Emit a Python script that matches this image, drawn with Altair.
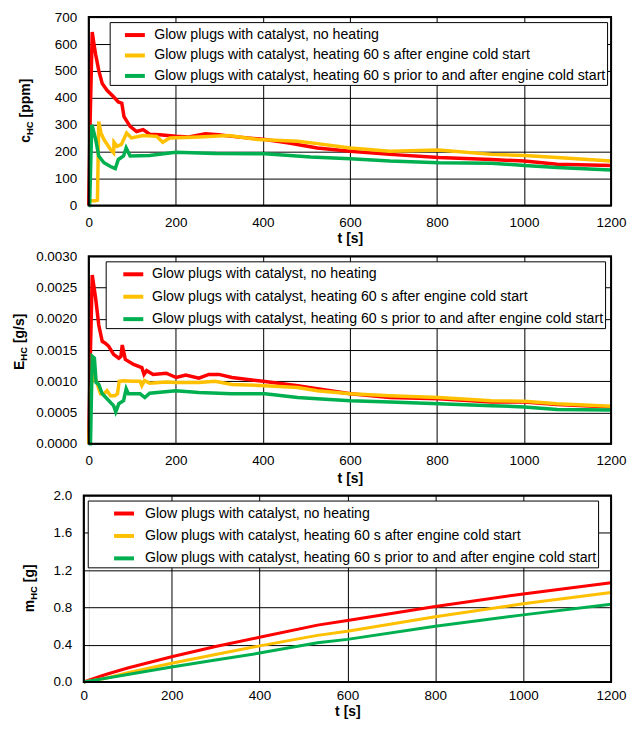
import altair as alt
import pandas as pd

FONT = "Liberation Sans"

SERIES = [
    "Glow plugs with catalyst, no heating",
    "Glow plugs with catalyst, heating 60 s after engine cold start",
    "Glow plugs with catalyst, heating 60 s prior to and after engine cold start",
]
COLORS = ["#FF0000", "#FFC000", "#00B050"]
X_TICKS = [0, 200, 400, 600, 800, 1000, 1200]

# ---- panel 1: c_HC [ppm]
c_red_t = [0, 3, 8, 12, 16, 23, 31, 42, 57, 68, 76, 81, 95, 110, 125, 140, 163, 200, 230, 268, 298, 340, 405, 460, 525, 601, 692, 804, 925, 1001, 1076, 1200]
c_red_v = [0, 300, 645, 600, 560, 502, 453, 428, 404, 385, 380, 330, 294, 275, 282, 265, 263, 257, 255, 267, 263, 255, 245, 232, 214, 202, 190, 178, 171, 165, 153, 149]
c_yel_t = [0, 5, 15, 20, 23, 28, 35, 50, 57, 58, 65, 75, 87, 98, 125, 156, 170, 186, 253, 321, 389, 480, 525, 601, 692, 804, 925, 1001, 1076, 1200]
c_yel_v = [15, 18, 18, 20, 312, 270, 245, 208, 196, 235, 220, 227, 269, 251, 260, 257, 235, 251, 255, 260, 245, 239, 230, 214, 202, 206, 190, 186, 178, 165]
c_grn_t = [0, 2, 7, 9, 16, 23, 35, 50, 61, 68, 80, 86, 95, 140, 200, 291, 405, 510, 601, 692, 804, 925, 1001, 1076, 1200]
c_grn_v = [0, 0, 300, 290, 245, 184, 159, 145, 137, 171, 184, 214, 184, 186, 198, 193, 192, 180, 174, 165, 159, 157, 149, 141, 132]

# ---- panel 2: E_HC [g/s]
e_red_t = [0, 3, 8, 16, 23, 31, 38, 46, 57, 69, 74, 77, 84, 103, 122, 127, 133, 148, 178, 201, 223, 253, 276, 299, 329, 405, 480, 525, 601, 692, 804, 925, 1001, 1076, 1200]
e_red_v = [0, 0.0012, 0.0027, 0.00232, 0.0019, 0.00164, 0.00161, 0.00156, 0.00143, 0.00137, 0.0014, 0.00158, 0.00135, 0.00127, 0.00122, 0.00111, 0.00117, 0.00111, 0.00113, 0.00106, 0.0011, 0.00105, 0.00111, 0.00111, 0.00106, 0.000997, 0.00093, 0.00088, 0.0008, 0.00074, 0.00072, 0.00067, 0.00067, 0.00063, 0.00059]
e_yel_t = [0, 5, 10, 16, 20, 27, 35, 42, 50, 60, 66, 70, 80, 100, 118, 122, 128, 140, 178, 200, 253, 290, 329, 405, 480, 525, 601, 692, 804, 925, 1001, 1076, 1200]
e_yel_v = [0, 0.0009, 0.0011, 0.00103, 0.00095, 0.0008, 0.0008, 0.00085, 0.00077, 0.00077, 0.0008, 0.001, 0.00101, 0.001, 0.001, 0.00093, 0.00101, 0.00097, 0.00099, 0.00098, 0.00098, 0.001, 0.00095, 0.00093, 0.0009, 0.00085, 0.0008, 0.00077, 0.00074, 0.00069, 0.00068, 0.00064, 0.0006]
e_grn_t = [0, 4, 8, 13, 17, 23, 31, 42, 57, 62, 69, 80, 86, 91, 118, 129, 140, 200, 253, 329, 405, 480, 525, 601, 692, 804, 925, 1001, 1076, 1200]
e_grn_v = [0, 0, 0.0014, 0.00137, 0.00098, 0.00095, 0.0008, 0.00072, 0.00061, 0.00051, 0.00064, 0.00069, 0.00088, 0.0008, 0.0008, 0.00074, 0.00081, 0.00085, 0.00082, 0.0008, 0.0008, 0.00074, 0.00072, 0.00069, 0.00067, 0.00064, 0.00061, 0.00059, 0.00055, 0.00054]

# ---- panel 3: m_HC [g]
m_t = [0, 50, 100, 200, 300, 400, 532, 600, 800, 1000, 1200]
m_red_v = [0, 0.08, 0.15, 0.27, 0.38, 0.48, 0.61, 0.66, 0.81, 0.945, 1.065]
m_yel_v = [0, 0.04, 0.1, 0.2, 0.295, 0.387, 0.5, 0.545, 0.70, 0.84, 0.96]
m_grn_v = [0, 0.04, 0.08, 0.16, 0.235, 0.31, 0.42, 0.457, 0.597, 0.72, 0.834]

C_TICKS = [0, 100, 200, 300, 400, 500, 600, 700]
E_TICKS = [0, 0.0005, 0.001, 0.0015, 0.002, 0.0025, 0.003]
M_TICKS = [0, 0.4, 0.8, 1.2, 1.6, 2.0]

W = 524


def long_df(ts, vs):
    rows = []
    for name, t, v in zip(SERIES, ts, vs):
        for a, b in zip(t, v):
            rows.append({"t": a, "v": b, "s": name})
    return pd.DataFrame(rows)


ONE = pd.DataFrame({"k": [0]})

EM = {"c": 0.556, "E": 0.667, "m": 0.889, "H": 0.722, "C": 0.722}


def ytitle_layers(main, unit, bx, by, fs=14, sfs=9.5):
    w_main = sum(EM[ch] for ch in main) * fs
    w_sub = (EM["H"] + EM["C"]) * sfs
    base = alt.Chart(ONE)
    kw = dict(angle=270, align="left", baseline="alphabetic", font=FONT, fontWeight="bold", color="black")
    t1 = base.mark_text(fontSize=fs, text=main, **kw).encode(x=alt.value(bx), y=alt.value(by))
    t2 = base.mark_text(fontSize=sfs, text="HC", **kw).encode(x=alt.value(bx + 3), y=alt.value(by - w_main))
    t3 = base.mark_text(fontSize=fs, text=unit, **kw).encode(x=alt.value(bx), y=alt.value(by - w_main - w_sub - 0.278 * fs))
    return [t1, t2, t3]


def panel(df, ydom, yticks, yfmt, h, xshift, lx, rowpad, symoff, laboff, nsp, title, lw,
          xlabpad, xtitpad):
    xaxis = alt.Axis(values=X_TICKS, format="d", title="t [s]", labelFlush=False, labelOverlap=False,
                     ticks=False, tickSize=0, labelPadding=xlabpad, titlePadding=xtitpad, domain=False,
                     grid=True, gridColor="black", gridWidth=1, gridOpacity=1,
                     labelFont=FONT, labelFontSize=13.5, labelColor="black",
                     titleFont=FONT, titleFontSize=14, titleFontWeight="bold", titleColor="black")
    yaxis = alt.Axis(values=yticks, format=yfmt, title=None, labelFlush=False, labelOverlap=False,
                     ticks=False, tickSize=0, labelPadding=12, domain=False, offset=xshift,
                     grid=True, gridColor="black", gridWidth=1, gridOpacity=1,
                     labelFont=FONT, labelFontSize=13.5, labelColor="black")
    spaces = "\u00a0" * nsp
    legend = alt.Legend(title=None, orient="none", legendX=lx, legendY=5, fillColor="white",
                        strokeColor="black", padding=1, symbolType="stroke",
                        symbolSize=400, symbolStrokeWidth=4, symbolOffset=symoff, labelOffset=laboff,
                        rowPadding=rowpad, labelFont=FONT, labelFontSize=14.2, labelColor="black",
                        labelLimit=800, labelExpr="datum.label + '" + spaces + "'")
    xscale = alt.Scale(domain=[0, 1200], nice=False, zero=False, range=[-xshift, W])
    yscale = alt.Scale(domain=ydom, nice=False, zero=False)
    lines = alt.Chart(df).mark_line(strokeWidth=lw).encode(
        x=alt.X("t:Q", scale=xscale, axis=xaxis),
        y=alt.Y("v:Q", scale=yscale, axis=yaxis),
        color=alt.Color("s:N", scale=alt.Scale(domain=SERIES, range=COLORS), legend=legend),
    )
    border = alt.Chart(ONE).mark_rect(filled=False, stroke="black", strokeWidth=2).encode(
        x=alt.XDatum(0, scale=xscale, axis=xaxis), x2=alt.X2Datum(1200),
        y=alt.YDatum(ydom[0], scale=yscale, axis=yaxis), y2=alt.Y2Datum(ydom[1]))
    bound = alt.Chart(ONE).mark_rule(opacity=0).encode(x=alt.value(-80), y=alt.value(0), y2=alt.value(2))
    main, unit, bx, by = title
    layers = [bound, lines, border] + ytitle_layers(main, unit, bx - xshift, by)
    return alt.layer(*layers).properties(width=W, height=h)


p1 = panel(long_df([c_red_t, c_yel_t, c_grn_t], [c_red_v, c_yel_v, c_grn_v]), [0, 700], C_TICKS, "d",
           189, 0, 21, 0.5, 12.3, 7.3, 0, ("c", "[ppm]", -58.5, 126), 3.5, 10, 3)
p2 = panel(long_df([e_red_t, e_yel_t, e_grn_t], [e_red_v, e_yel_v, e_grn_v]), [0, 0.003], E_TICKS, ".4f",
           188, 0, 17, 2.5, 14.7, 6.7, 1, ("E", "[g/s]", -65, 114), 3.5, 10, 4)
p3 = panel(long_df([m_t, m_t, m_t], [m_red_v, m_yel_v, m_grn_v]), [0, 2.0], M_TICKS, ".1f",
           187, 5, -1, 2.5, 23.4, 9, 3, ("m", "[g]", -50, 117), 3, 7, 2)

chart = alt.vconcat(p1, p2, p3, spacing=2).resolve_legend(color="independent").resolve_scale(color="independent").properties(
    padding={"left": 0, "top": 0, "right": 0, "bottom": 0}
).configure_view(stroke="transparent", strokeWidth=0).configure_legend(strokeWidth=1).configure(background="white")

chart.save("out.html", embed_options={"renderer": "svg", "actions": False})
